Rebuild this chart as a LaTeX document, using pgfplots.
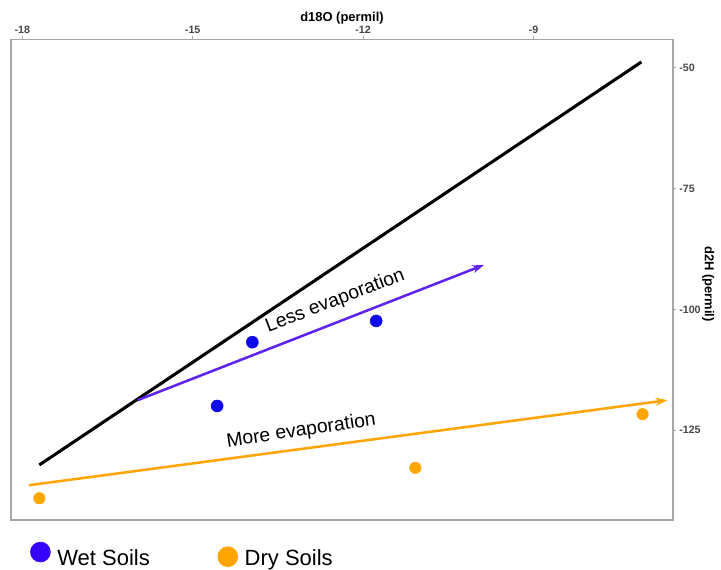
\documentclass[border=0pt]{standalone}
\usepackage{fontspec}
\setmainfont{Liberation Sans}
\usepackage{pgfplots}
\pgfplotsset{compat=1.18}
\usetikzlibrary{arrows.meta}
\definecolor{wetblue}{RGB}{15,10,235}
\definecolor{legblue}{RGB}{55,0,255}
\definecolor{dryorange}{RGB}{255,165,0}
\definecolor{arrowpurple}{RGB}{95,35,240}
\definecolor{axisgray}{RGB}{165,165,165}
\definecolor{ticktext}{RGB}{70,70,70}
\begin{document}
\begin{tikzpicture}
\path[use as bounding box] (0,0) rectangle (540.75pt,426.75pt);
\begin{axis}[
  at={(8.25pt,36.75pt)}, anchor=south west,
  scale only axis, width=496.5pt, height=360.5pt,
  xmin=-18.199, xmax=-6.544, ymin=-143.6, ymax=-44.12,
  xtick={-18,-15,-12,-9}, ytick={-125,-100,-75,-50},
  xtick pos=upper, ytick pos=right,
  xticklabel pos=upper, yticklabel pos=right,
  tick align=outside, major tick length=2.5pt,
  tick style={axisgray, line width=0.8pt},
  axis line style={axisgray, line width=1.1pt},
  xlabel={d18O (permil)}, ylabel={d2H (permil)},
  xlabel style={font=\bfseries\fontsize{9.7}{11}\selectfont, inner sep=0pt,
    at={(axis description cs:0.5,1.032)}, anchor=south},
  ylabel style={font=\bfseries\fontsize{9.7}{11}\selectfont, inner sep=0pt,
    at={(axis description cs:1.0438,0.491)}, anchor=south, rotate=180},
  ticklabel style={font=\bfseries\fontsize{8}{9}\selectfont, text=ticktext},
  xticklabel style={inner sep=1.5pt}, yticklabel style={inner sep=2pt},
  /pgf/number format/assume math mode=true,
  clip=false,
  legend style={at={(0.0225,-0.075)}, anchor=west, draw=none, fill=none,
    font=\fontsize{16.5}{18}\selectfont, legend columns=2,
    /tikz/every even column/.append style={column sep=48.75pt}},
]
\addplot[black, line width=2.3pt, forget plot] coordinates {(-17.70,-132.2) (-7.10,-48.8)};
\addplot[arrowpurple, line width=1.9pt, -{Stealth[length=9pt,width=6pt]}, forget plot] coordinates {(-15.97,-118.8) (-9.87,-90.8)};
\addplot[dryorange, line width=1.9pt, -{Stealth[length=9pt,width=6pt]}, forget plot] coordinates {(-17.88,-136.4) (-6.64,-118.8)};
\addplot[only marks, mark=*, mark size=4.5pt, wetblue, forget plot] coordinates {(-13.95,-106.8) (-11.77,-102.4) (-14.57,-120.0)};
\addplot[only marks, mark=*, mark size=4.3pt, dryorange, forget plot] coordinates {(-17.70,-139.1) (-11.08,-132.8) (-7.08,-121.7)};
\addlegendimage{legend image code/.code={\fill[legblue] (0pt,5pt) circle (7.5pt); \path (10.5pt,0pt);}}
\addlegendentry{Wet Soils}
\addlegendimage{legend image code/.code={\fill[dryorange] (0pt,1.5pt) circle (7.5pt); \path (10.5pt,0pt);}}
\addlegendentry{Dry Soils}
\node[rotate=21, font=\fontsize{14.5}{16}\selectfont] at (axis cs:-12.49,-98.3) {Less evaporation};
\node[rotate=8.5, font=\fontsize{14.5}{16}\selectfont] at (axis cs:-13.09,-125.2) {More evaporation};
\end{axis}
\end{tikzpicture}
\end{document}
